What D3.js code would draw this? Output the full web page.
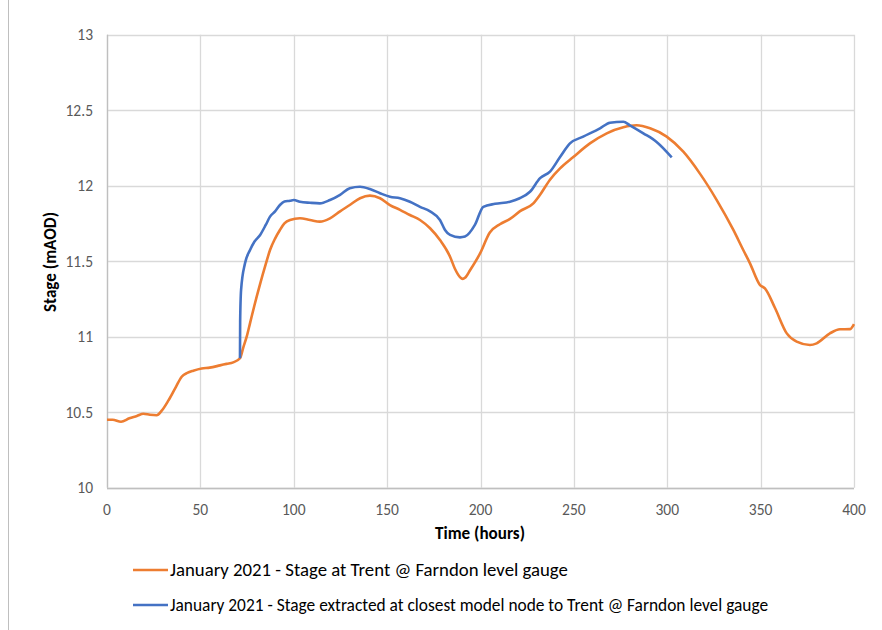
<!DOCTYPE html>
<html><head><meta charset="utf-8">
<script src="https://cdn.jsdelivr.net/npm/d3@7"></script>
<style>body{margin:0;background:#fff}svg{display:block}text{font-family:Carlito,Lato,"Liberation Sans",sans-serif}</style>
</head><body>
<script>
const seriesNames = [
  "January 2021 - Stage at Trent @ Farndon level gauge",
  "January 2021 - Stage extracted at closest model node to Trent @ Farndon level gauge"
];
const xTicks = [0,50,100,150,200,250,300,350,400];
const yTicks = [10,10.5,11,11.5,12,12.5,13];
const xTitle = "Time (hours)";
const yTitle = "Stage (mAOD)";

const gaugeT = [0,3,7.5,12,16,19.5,23,26.6,29.3,33,37,40,43,46.2,50.7,55,60.5,64,67.6,71.2,73,74.8,76.6,79,82,85,87.3,90,92.6,95,98,103.3,108.7,114,119.4,124.8,130,135.5,140.8,146.2,151.5,156.9,162.2,167.6,173,178.3,183.7,186.3,189,190.5,191.7,194.4,199.7,205,210.4,215.8,221,228.3,231.9,237.2,242.6,249.7,258.6,267.6,276.5,283.6,290.8,299.7,308.6,317.5,326.5,335.4,340.7,344.3,349.7,352.3,357.7,364,369.3,376.4,380,387.1,392.5,397.8,400];
const gaugeV = [10.45,10.45,10.437,10.46,10.475,10.49,10.483,10.48,10.51,10.58,10.67,10.735,10.76,10.775,10.79,10.795,10.81,10.82,10.83,10.857,10.93,11.0,11.09,11.21,11.35,11.48,11.574,11.65,11.707,11.75,11.773,11.784,11.773,11.762,11.784,11.83,11.872,11.917,11.934,11.917,11.872,11.84,11.806,11.773,11.718,11.64,11.53,11.45,11.395,11.383,11.39,11.44,11.55,11.69,11.745,11.78,11.83,11.883,11.94,12.04,12.115,12.19,12.28,12.347,12.387,12.40,12.38,12.325,12.225,12.08,11.905,11.707,11.574,11.486,11.342,11.32,11.19,11.022,10.967,10.945,10.956,11.022,11.049,11.05,11.084];

const modelT = [71.2,71.3,71.8,73.9,76.6,79,82,85,87.3,90,92.6,95,98,100,103.3,108.7,114,119.4,124.8,130,135.5,140.8,146.2,151.5,156.9,162.2,167.6,173,178.3,181,183.7,189,191.7,197,201.5,207.8,215.8,221,226.5,231.9,237.2,242.6,247.9,255,264,269.3,276.5,280,287.2,294.3,302.4];
const modelV = [10.857,11.1,11.31,11.486,11.574,11.63,11.674,11.74,11.795,11.83,11.872,11.895,11.90,11.905,11.894,11.887,11.883,11.905,11.94,11.983,11.993,11.978,11.95,11.927,11.917,11.894,11.86,11.83,11.773,11.707,11.674,11.658,11.663,11.74,11.86,11.88,11.894,11.917,11.96,12.05,12.093,12.19,12.28,12.325,12.38,12.417,12.424,12.40,12.347,12.29,12.188];

const colors = ["#ED7D31","#4472C4"];

const W = 882, H = 630;
const svg = d3.select("body").append("svg").attr("width",W).attr("height",H);
const x = d3.scaleLinear().domain([0,400]).range([107,854]);
const y = d3.scaleLinear().domain([10,13]).range([487.7,34.7]);

function fitWidth(sel, target){
  const n = sel.node();
  const fs = parseFloat(sel.attr("font-size"));
  const w = n.getComputedTextLength();
  if (w > 0) sel.attr("font-size", (fs*target/w).toFixed(2));
}

// outer left border
svg.append("line").attr("x1",8.5).attr("x2",8.5).attr("y1",0).attr("y2",H).attr("stroke","#bfbfbf").attr("stroke-width",1);

// gridlines
const grid = svg.append("g");
grid.selectAll(".gy").data(yTicks).join("line")
  .attr("x1",x(0)).attr("x2",x(400)).attr("y1",d=>Math.round(y(d))+0.5).attr("y2",d=>Math.round(y(d))+0.5)
  .attr("stroke","#d9d9d9").attr("stroke-width",1.3);
grid.selectAll(".gx").data(xTicks).join("line")
  .attr("y1",y(10)).attr("y2",y(13)).attr("x1",d=>Math.round(x(d))+0.5).attr("x2",d=>Math.round(x(d))+0.5)
  .attr("stroke","#d9d9d9").attr("stroke-width",1.3);
// axis lines
svg.append("line").attr("x1",x(0)).attr("x2",x(400)).attr("y1",Math.round(y(10))+0.5).attr("y2",Math.round(y(10))+0.5).attr("stroke","#bfbfbf").attr("stroke-width",1.3);
svg.append("line").attr("x1",Math.round(x(0))+0.5).attr("x2",Math.round(x(0))+0.5).attr("y1",y(10)).attr("y2",y(13)).attr("stroke","#bfbfbf").attr("stroke-width",1.3);

// tick labels
svg.append("g").selectAll("text").data(xTicks).join("text")
  .attr("x",d=>x(d)).attr("y",515).attr("text-anchor","middle")
  .attr("font-size",15.5).attr("fill","#595959").text(d=>d);
svg.append("g").selectAll("text").data(yTicks).join("text")
  .attr("x",93).attr("y",d=>y(d)+5.5).attr("text-anchor","end")
  .attr("font-size",15.5).attr("fill","#595959").text(d=>d);

// axis titles
const xt = svg.append("text").attr("x",480).attr("y",539).attr("text-anchor","middle")
  .attr("font-size",15).attr("font-weight","bold").attr("fill","#000").text(xTitle);
fitWidth(xt, 90);
const yt = svg.append("text").attr("transform","translate(56,262) rotate(-90)").attr("text-anchor","middle")
  .attr("font-size",15).attr("font-weight","bold").attr("fill","#000").text(yTitle);
fitWidth(yt, 100);

// lines
const line = d3.line().x(d=>x(d[0])).y(d=>y(d[1])).curve(d3.curveMonotoneX);
svg.append("clipPath").attr("id","plotclip").append("rect").attr("x",x(0)).attr("y",y(13)-3).attr("width",x(400)-x(0)+2).attr("height",y(10)-y(13)+6);
const g = svg.append("g").attr("clip-path","url(#plotclip)");
g.append("path").datum(gaugeT.map((t,i)=>[t,gaugeV[i]])).attr("d",line)
  .attr("fill","none").attr("stroke",colors[0]).attr("stroke-width",2.6).attr("stroke-linejoin","round");
g.append("path").datum(modelT.map((t,i)=>[t,modelV[i]])).attr("d",line)
  .attr("fill","none").attr("stroke",colors[1]).attr("stroke-width",2.6).attr("stroke-linejoin","round");

// legend
const legY = [570,605];
seriesNames.forEach((nm,i)=>{
  svg.append("line").attr("x1",133).attr("x2",168).attr("y1",legY[i]).attr("y2",legY[i])
    .attr("stroke",colors[i]).attr("stroke-width",2.6);
  const t = svg.append("text").attr("x",170).attr("y",legY[i]+6)
    .attr("font-size",15).attr("fill","#000").text(nm);
  if (i===1) fitWidth(t, 598);
  else fitWidth(t, 398);
});
</script>
</body></html>
